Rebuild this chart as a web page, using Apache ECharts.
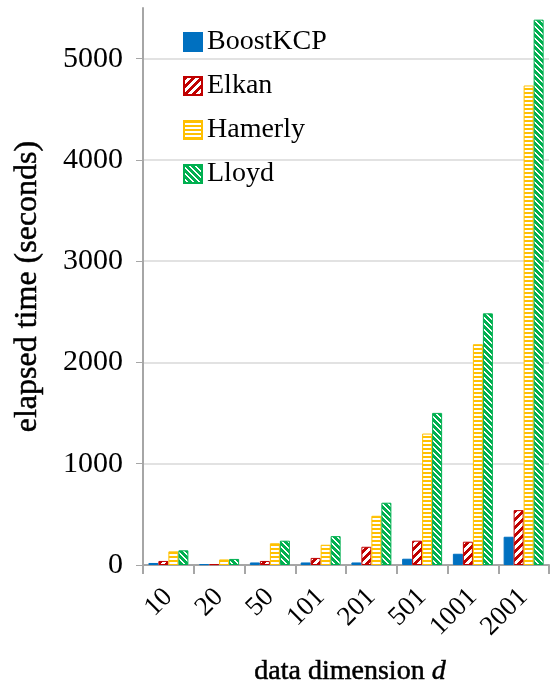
<!DOCTYPE html>
<html>
<head>
<meta charset="utf-8">
<script src="https://cdn.jsdelivr.net/npm/echarts@6/dist/echarts.min.js"></script>
<style>
  html, body { margin: 0; padding: 0; background: #fff; }
  #chart { width: 552px; height: 697px; }
</style>
</head>
<body>
<div id="chart"></div>
<script>
// Elapsed time of k-means variants versus data dimension
const dimensions = ['10', '20', '50', '101', '201', '501', '1001', '2001'];
const boostKCP = [20, 8, 25, 25, 25, 62, 111, 279];
const elkan    = [40, 8, 40, 70, 180, 240, 230, 542];
const hamerly  = [135, 55, 215, 200, 486, 1298, 2180, 4735];
const lloyd    = [145, 60, 240, 285, 615, 1502, 2485, 5385];

const FONT = '"Liberation Serif", "DejaVu Serif", serif';

// Small repeating tiles used as hatched bar fills
function tile(w, h, paint) {
  const c = document.createElement('canvas');
  c.width = w; c.height = h;
  const ctx = c.getContext('2d');
  for (let y = 0; y < h; y++) {
    for (let x = 0; x < w; x++) {
      ctx.fillStyle = paint(x, y);
      ctx.fillRect(x, y, 1, 1);
    }
  }
  return { image: c, repeat: 'repeat' };
}
const RED = '#C00000', YELLOW = '#FFC000', GREEN = '#00B050', BLUE = '#0070C0';
const upDiag   = tile(8, 8, (x, y) => ((x + y) % 8 < 4 ? RED : '#ffffff'));
const horiz    = tile(4, 4, (x, y) => (y < 2 ? YELLOW : '#ffffff'));
const downDiag = tile(6, 6, (x, y) => (((x - y + 12) % 6) < 4 ? GREEN : '#ffffff'));

function barSeries(name, data, fill, border) {
  return {
    name: name,
    type: 'bar',
    data: data,
    barWidth: 10,
    barGap: '0%',
    itemStyle: { color: fill, borderColor: border, borderWidth: 1 },
    emphasis: { disabled: true }
  };
}

const nameStyle = {
  fontFamily: FONT, color: '#000', fontWeight: 'normal',
  textBorderColor: '#000', textBorderWidth: 0.5
};

const chart = echarts.init(document.getElementById('chart'), null, { renderer: 'canvas' });
chart.setOption({
  animation: false,
  backgroundColor: '#ffffff',
  grid: { left: 143, right: 3, top: 8, bottom: 132, containLabel: false },
  legend: {
    orient: 'vertical',
    left: 178,
    top: 23,
    icon: 'rect',
    itemWidth: 18,
    itemHeight: 18,
    itemGap: 16,
    textStyle: { fontFamily: FONT, fontSize: 28, color: '#000' },
    data: ['BoostKCP', 'Elkan', 'Hamerly', 'Lloyd']
  },
  xAxis: {
    type: 'category',
    data: dimensions,
    name: 'data dimension {i|d}',
    nameLocation: 'middle',
    nameGap: 93,
    nameTextStyle: Object.assign({}, nameStyle, {
      fontSize: 28,
      padding: [0, 0, 0, 8],
      rich: {
        i: { fontFamily: FONT, fontSize: 28, fontStyle: 'italic', color: '#000',
             textBorderColor: '#000', textBorderWidth: 0.5 }
      }
    }),
    axisLine: { lineStyle: { color: '#a6a6a6', width: 2 } },
    axisTick: { show: true, length: 9, lineStyle: { color: '#a6a6a6', width: 2 } },
    axisLabel: { rotate: 45, margin: 28, fontFamily: FONT, fontSize: 27, color: '#000' },
    splitLine: { show: false }
  },
  yAxis: {
    type: 'value',
    min: 0,
    max: 5500,
    interval: 1000,
    name: 'elapsed time (seconds)',
    nameLocation: 'middle',
    nameGap: 99,
    nameRotate: 90,
    nameTextStyle: Object.assign({}, nameStyle, { fontSize: 32 }),
    axisLine: { show: true, lineStyle: { color: '#a6a6a6', width: 2 } },
    axisTick: { show: true, length: 7, lineStyle: { color: '#a6a6a6', width: 1 } },
    axisLabel: {
      margin: 20, fontFamily: FONT, fontSize: 30, color: '#000', showMaxLabel: false,
      formatter: (v) => String(v)
    },
    splitLine: { show: true, showMaxLine: false, lineStyle: { color: '#d9d9d9', width: 1.5 } }
  },
  series: [
    barSeries('BoostKCP', boostKCP, BLUE, BLUE),
    barSeries('Elkan', elkan, upDiag, RED),
    barSeries('Hamerly', hamerly, horiz, YELLOW),
    barSeries('Lloyd', lloyd, downDiag, GREEN)
  ]
});
</script>
</body>
</html>
